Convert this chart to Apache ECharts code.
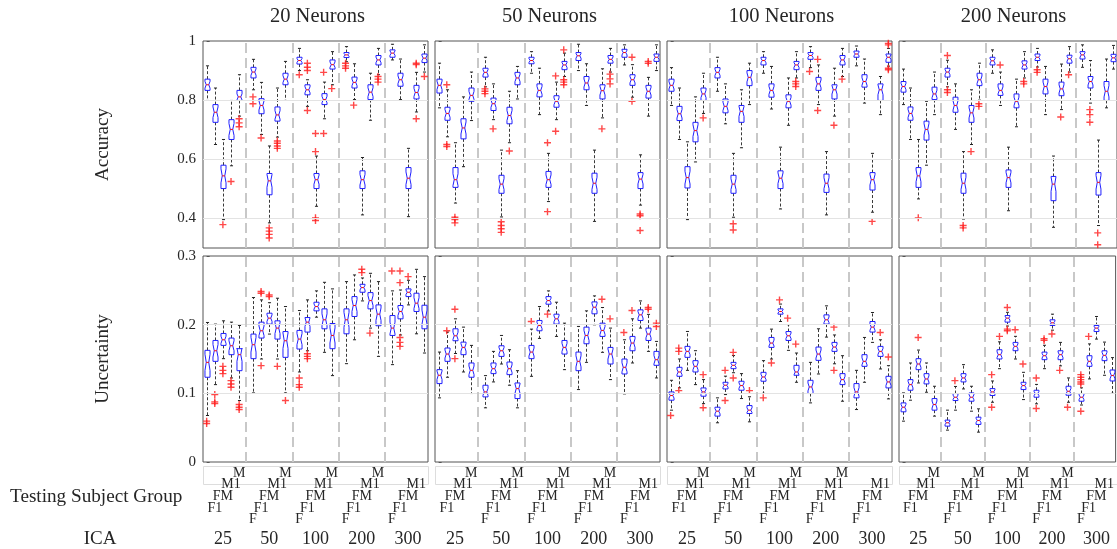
<!DOCTYPE html>
<html><head><meta charset="utf-8">
<script src="https://cdn.jsdelivr.net/npm/echarts@6/dist/echarts.min.js"></script>
<style>html,body{margin:0;padding:0;background:#fff}#c{width:1117px;height:549px}</style>
</head><body><div id="c"></div>
<script>
// ---------------- data ----------------
const neuronTitles = ['20 Neurons', '50 Neurons', '100 Neurons', '200 Neurons'];
const icaLabels = ['25', '50', '100', '200', '300'];
const subjectGroups = ['F', 'F1', 'FM', 'M1', 'M'];
const accLabelTicks = [0.4, 0.6, 0.8, 1];
const uncLabelTicks = [0, 0.1, 0.2, 0.3];

// each box: [lowWhisker, q1, median, q3, highWhisker]; order: ICA 25..300, each F,F1,FM,M1,M
const acc20 = [
  [0.799,0.833,0.852,0.871,0.916],[0.650,0.725,0.759,0.785,0.841],[0.396,0.501,0.544,0.580,0.667],[0.578,0.667,0.701,0.734,0.799],[0.746,0.799,0.811,0.833,0.886],
  [0.835,0.875,0.895,0.911,0.938],[0.684,0.754,0.782,0.805,0.860],[0.385,0.480,0.527,0.552,0.645],[0.675,0.729,0.750,0.777,0.841],[0.799,0.852,0.871,0.891,0.931],
  [0.900,0.922,0.934,0.945,0.975],[0.779,0.818,0.835,0.852,0.869],[0.441,0.501,0.531,0.552,0.611],[0.737,0.785,0.802,0.822,0.861],[0.852,0.905,0.920,0.936,0.964],
  [0.930,0.944,0.953,0.961,0.981],[0.802,0.841,0.860,0.878,0.923],[0.412,0.501,0.531,0.561,0.606],[0.732,0.802,0.827,0.852,0.891],[0.886,0.919,0.936,0.951,0.975],
  [0.936,0.945,0.959,0.970,0.989],[0.802,0.847,0.869,0.891,0.939],[0.406,0.501,0.536,0.572,0.637],[0.760,0.804,0.826,0.850,0.894],[0.895,0.927,0.942,0.956,0.987]
];
const acc20Out = {2:[0.379],3:[0.525],4:[0.737,0.723,0.710],5:[0.811,0.788],6:[0.672],7:[0.368,0.357,0.346,0.334],8:[0.662,0.654,0.645,0.637],10:[0.886],11:[0.925,0.911,0.900,0.765],12:[0.687,0.626,0.402,0.393],13:[0.894,0.687],14:[0.839],15:[0.925,0.916,0.908],16:[0.783],19:[0.880,0.871,0.861],23:[0.925,0.920,0.737],24:[0.880]};

const acc50 = [
  [0.774,0.824,0.850,0.871,0.925],[0.676,0.732,0.755,0.776,0.835],[0.452,0.505,0.531,0.572,0.656],[0.575,0.669,0.706,0.737,0.811],[0.731,0.796,0.816,0.841,0.895],
  [0.845,0.878,0.894,0.908,0.945],[0.734,0.765,0.788,0.807,0.855],[0.405,0.485,0.516,0.546,0.631],[0.656,0.720,0.748,0.776,0.830],[0.804,0.852,0.875,0.894,0.914],
  [0.891,0.923,0.934,0.945,0.964],[0.751,0.811,0.833,0.855,0.908],[0.457,0.505,0.531,0.559,0.620],[0.734,0.776,0.796,0.815,0.861],[0.880,0.903,0.919,0.931,0.959],
  [0.900,0.934,0.950,0.961,0.989],[0.782,0.835,0.858,0.880,0.923],[0.390,0.485,0.519,0.553,0.631],[0.740,0.804,0.832,0.852,0.906],[0.895,0.925,0.938,0.951,0.975],
  [0.919,0.945,0.961,0.972,0.987],[0.810,0.850,0.869,0.886,0.920],[0.445,0.501,0.533,0.555,0.615],[0.746,0.807,0.830,0.850,0.877],[0.900,0.931,0.945,0.956,0.987]
];
const acc50Out = {1:[0.852,0.650,0.643],2:[0.404,0.396,0.385],5:[0.838,0.830,0.822],6:[0.703],7:[0.389,0.376,0.365,0.353],8:[0.628],12:[0.656,0.423],13:[0.882,0.695],14:[0.970,0.869,0.861,0.852],18:[0.703],19:[0.888,0.872,0.855],21:[0.945,0.796],22:[0.415,0.409,0.359],23:[0.931,0.925]};

const acc100 = [
  [0.782,0.830,0.850,0.871,0.910],[0.667,0.731,0.754,0.779,0.841],[0.396,0.503,0.538,0.575,0.659],[0.591,0.659,0.697,0.725,0.811],[0.755,0.799,0.821,0.841,0.891],
  [0.830,0.875,0.894,0.910,0.945],[0.720,0.757,0.779,0.804,0.855],[0.404,0.485,0.516,0.546,0.620],[0.639,0.725,0.762,0.782,0.835],[0.785,0.849,0.877,0.900,0.925],
  [0.891,0.919,0.934,0.945,0.964],[0.770,0.810,0.833,0.855,0.914],[0.432,0.501,0.536,0.561,0.641],[0.715,0.774,0.796,0.818,0.875],[0.875,0.903,0.919,0.931,0.964],
  [0.910,0.938,0.951,0.961,0.981],[0.785,0.833,0.855,0.877,0.919],[0.412,0.488,0.519,0.550,0.626],[0.746,0.804,0.835,0.852,0.908],[0.880,0.919,0.936,0.951,0.975],
  [0.916,0.945,0.956,0.966,0.983],[0.790,0.844,0.863,0.886,0.939],[0.421,0.496,0.531,0.555,0.620],[0.751,0.799,0.835,0.855,0.880],[0.915,0.928,0.945,0.956,0.975]
];
const acc100Out = {4:[0.740],7:[0.382,0.361],14:[0.863,0.855,0.846],15:[0.897],16:[0.938,0.765],18:[0.715],19:[0.871],22:[0.390],24:[0.992,0.987,0.908,0.903]};

const acc200 = [
  [0.785,0.827,0.846,0.863,0.905],[0.667,0.732,0.755,0.777,0.841],[0.466,0.505,0.544,0.572,0.667],[0.580,0.665,0.701,0.729,0.796],[0.751,0.802,0.821,0.844,0.895],
  [0.845,0.878,0.895,0.908,0.935],[0.701,0.759,0.782,0.810,0.855],[0.398,0.485,0.519,0.553,0.626],[0.650,0.725,0.757,0.782,0.835],[0.800,0.849,0.869,0.891,0.925],
  [0.891,0.919,0.933,0.945,0.970],[0.782,0.816,0.833,0.855,0.895],[0.426,0.505,0.538,0.564,0.641],[0.710,0.774,0.796,0.821,0.871],[0.875,0.905,0.919,0.933,0.964],
  [0.912,0.934,0.945,0.956,0.975],[0.751,0.821,0.846,0.871,0.914],[0.370,0.460,0.516,0.542,0.611],[0.768,0.815,0.838,0.861,0.922],[0.895,0.925,0.940,0.952,0.981],
  [0.911,0.939,0.953,0.964,0.987],[0.790,0.841,0.863,0.880,0.934],[0.376,0.479,0.522,0.555,0.665],[0.774,0.799,0.830,0.863,0.939],[0.905,0.930,0.943,0.955,0.985]
];
const acc200Out = {2:[0.402],5:[0.951,0.835,0.826],7:[0.376,0.368],8:[0.626],9:[0.788,0.779],11:[0.919],14:[0.863,0.855],15:[0.903,0.894],18:[0.743],19:[0.886],21:[0.768,0.751,0.725],22:[0.351,0.311]};

const unc20 = [
  [0.0677,0.1234,0.1451,0.1626,0.2032],[0.1127,0.1466,0.1620,0.1770,0.2008],[0.1505,0.1698,0.1780,0.1872,0.2056],[0.1224,0.1563,0.1693,0.1805,0.2037],[0.0895,0.1330,0.1563,0.1650,0.1988],
  [0.1006,0.1505,0.1708,0.1863,0.2395],[0.1500,0.1805,0.1911,0.2037,0.2361],[0.1863,0.2008,0.2095,0.2167,0.2320],[0.1500,0.1790,0.1950,0.2056,0.2385],[0.1006,0.1524,0.1766,0.1900,0.2264],
  [0.1311,0.1645,0.1790,0.1916,0.2206],[0.1620,0.1892,0.2037,0.2104,0.2361],[0.2109,0.2201,0.2264,0.2327,0.2492],[0.1597,0.1940,0.2071,0.2230,0.2617],[0.1258,0.1650,0.1843,0.2017,0.2521],
  [0.1432,0.1867,0.2071,0.2230,0.2627],[0.1780,0.2119,0.2279,0.2409,0.2724],[0.2346,0.2472,0.2540,0.2588,0.2680],[0.1950,0.2230,0.2351,0.2467,0.2748],[0.1538,0.1984,0.2153,0.2288,0.2627],
  [0.1418,0.1843,0.1950,0.2133,0.2492],[0.1850,0.2085,0.2192,0.2279,0.2505],[0.2288,0.2409,0.2472,0.2521,0.2646],[0.1867,0.2192,0.2313,0.2458,0.2806],[0.1587,0.1940,0.2109,0.2283,0.2700]
];
const unc20Out = {0:[0.0595,0.0561],1:[0.0982,0.0876,0.0851],2:[0.1393,0.1335,0.1287],3:[0.1185,0.1137,0.1089],4:[0.0837,0.0798,0.0764],6:[0.2482,0.2458,0.1403],7:[0.2433,0.2409],8:[0.1393],9:[0.0895],10:[0.1224,0.1127,0.1089],11:[0.1577,0.1538,0.1505],17:[0.2806,0.2758],18:[0.1877],20:[0.2782],21:[0.2782,0.2612,0.1814,0.1742,0.1684],22:[0.2700]};

const unc50 = [
  [0.0934,0.1142,0.1263,0.1345,0.1601],[0.1234,0.1466,0.1572,0.1660,0.1892],[0.1580,0.1766,0.1838,0.1940,0.2085],[0.1311,0.1563,0.1669,0.1746,0.1964],[0.0997,0.1234,0.1335,0.1442,0.1698],
  [0.0789,0.0948,0.1021,0.1118,0.1258],[0.1166,0.1287,0.1359,0.1442,0.1611],[0.1427,0.1538,0.1620,0.1693,0.1843],[0.1118,0.1272,0.1359,0.1456,0.1635],[0.0789,0.0924,0.1069,0.1151,0.1330],
  [0.1248,0.1505,0.1601,0.1698,0.1935],[0.1800,0.1911,0.1988,0.2061,0.2264],[0.2200,0.2298,0.2351,0.2409,0.2492],[0.1829,0.2008,0.2085,0.2153,0.2327],[0.1345,0.1572,0.1669,0.1770,0.2022],
  [0.1055,0.1330,0.1466,0.1601,0.1974],[0.1451,0.1722,0.1843,0.1964,0.2201],[0.1998,0.2158,0.2254,0.2332,0.2419],[0.1597,0.1829,0.1916,0.2022,0.2250],[0.1200,0.1427,0.1572,0.1669,0.1950],
  [0.0992,0.1282,0.1379,0.1500,0.1780],[0.1442,0.1620,0.1732,0.1829,0.2085],[0.1950,0.2061,0.2143,0.2216,0.2346],[0.1611,0.1770,0.1863,0.1950,0.2150],[0.1224,0.1408,0.1490,0.1611,0.1756]
];
const unc50Out = {1:[0.1911],2:[0.2225,0.1505],10:[0.2046],12:[0.2153],18:[0.2371],19:[0.2085],20:[0.1887],21:[0.2206],23:[0.2250,0.2225],24:[0.2022,0.1974]};

const unc100 = [
  [0.0755,0.0900,0.0968,0.1021,0.1190],[0.1080,0.1248,0.1311,0.1379,0.1500],[0.1335,0.1524,0.1611,0.1684,0.1901],[0.1127,0.1311,0.1393,0.1476,0.1621],[0.0850,0.0958,0.1021,0.1079,0.1200],
  [0.0571,0.0668,0.0740,0.0798,0.0934],[0.0982,0.1064,0.1118,0.1161,0.1250],[0.1300,0.1359,0.1408,0.1451,0.1550],[0.0924,0.1045,0.1113,0.1176,0.1287],[0.0585,0.0706,0.0755,0.0822,0.0950],
  [0.1000,0.1176,0.1238,0.1306,0.1476],[0.1500,0.1669,0.1732,0.1814,0.1935],[0.2046,0.2153,0.2192,0.2230,0.2300],[0.1626,0.1770,0.1838,0.1900,0.2000],[0.1161,0.1263,0.1311,0.1408,0.1587],
  [0.0861,0.0997,0.1093,0.1190,0.1451],[0.1282,0.1480,0.1572,0.1674,0.1940],[0.1819,0.2008,0.2071,0.2143,0.2274],[0.1430,0.1611,0.1674,0.1742,0.1850],[0.0885,0.1127,0.1200,0.1287,0.1548],
  [0.0764,0.0934,0.1021,0.1142,0.1335],[0.1161,0.1393,0.1466,0.1563,0.1814],[0.1742,0.1892,0.1964,0.2046,0.2177],[0.1355,0.1538,0.1611,0.1684,0.1780],[0.0919,0.1079,0.1166,0.1248,0.1403]
];
const unc100Out = {0:[0.0677],1:[0.1659,0.1611,0.1040],4:[0.1272,0.0789],6:[0.1335,0.0895],7:[0.1597,0.1224],9:[0.1040],10:[0.0934],11:[0.1442],12:[0.2361],13:[0.2095],14:[0.1717],18:[0.1964,0.1335],23:[0.1887],24:[0.1529]};

const unc200 = [
  [0.0595,0.0731,0.0798,0.0861,0.1006],[0.0900,0.1045,0.1127,0.1200,0.1442],[0.1151,0.1345,0.1427,0.1505,0.1630],[0.1016,0.1137,0.1209,0.1287,0.1442],[0.0668,0.0755,0.0837,0.0924,0.1103],
  [0.0464,0.0522,0.0571,0.0610,0.0755],[0.0755,0.0895,0.0943,0.0997,0.1100],[0.1064,0.1166,0.1224,0.1287,0.1418],[0.0740,0.0885,0.0943,0.1006,0.1103],[0.0435,0.0547,0.0605,0.0653,0.0774],
  [0.0870,0.0968,0.1021,0.1069,0.1180],[0.1359,0.1500,0.1563,0.1635,0.1750],[0.1980,0.2037,0.2095,0.2133,0.2180],[0.1500,0.1621,0.1684,0.1742,0.1830],[0.0909,0.1055,0.1113,0.1161,0.1306],
  [0.0847,0.0943,0.0997,0.1045,0.1130],[0.1359,0.1490,0.1548,0.1601,0.1700],[0.1920,0.1988,0.2027,0.2071,0.2153],[0.1400,0.1490,0.1563,0.1620,0.1742],[0.0870,0.0972,0.1030,0.1103,0.1224],
  [0.0830,0.0885,0.0943,0.0997,0.1080],[0.1210,0.1393,0.1466,0.1548,0.1720],[0.1790,0.1900,0.1950,0.1988,0.2119],[0.1263,0.1476,0.1553,0.1620,0.1746],[0.1000,0.1180,0.1260,0.1340,0.1520]
];
const unc200Out = {2:[0.1814],6:[0.1185],10:[0.1272,0.0798],11:[0.1829],12:[0.2250,0.1935,0.1911],13:[0.1925],14:[0.1427],15:[0.1224,0.0779],16:[0.1795,0.1771],17:[0.1863],18:[0.1335],19:[0.0798],20:[0.1272,0.1234,0.1200,0.1166,0.1137,0.0740],21:[0.1829]};

// ---------------- layout / style ----------------
const FONT = '"Liberation Serif", "Times New Roman", serif';
const TXT = '#262626';
const GAP = 5.7;
const XMIN = -0.45, XMAX = 4 * GAP + 4 + 0.45;
const panelLefts = [203, 435, 667, 899];
const panelW = 225;
const rows = [{top: 41, height: 207}, {top: 256, height: 206}];

const positions = [];
for (let g = 0; g < 5; g++) for (let i = 0; i < 5; i++) positions.push(+(g * GAP + i).toFixed(3));
const groupCenters = [0,1,2,3,4].map(g => +(g * GAP + 2).toFixed(3));
const separators = [0,1,2,3].map(g => +(g * GAP + 4 + (GAP - 4) / 2).toFixed(3));

const panels = [
  {row: 0, col: 0, boxes: acc20, out: acc20Out}, {row: 0, col: 1, boxes: acc50, out: acc50Out},
  {row: 0, col: 2, boxes: acc100, out: acc100Out}, {row: 0, col: 3, boxes: acc200, out: acc200Out},
  {row: 1, col: 0, boxes: unc20, out: unc20Out}, {row: 1, col: 1, boxes: unc50, out: unc50Out},
  {row: 1, col: 2, boxes: unc100, out: unc100Out}, {row: 1, col: 3, boxes: unc200, out: unc200Out}
];

function renderBox(params, api) {
  const x = api.value(0);
  const lo = api.value(1), q1 = api.value(2), md = api.value(3), q3 = api.value(4), hi = api.value(5);
  const unit = api.size([1, 0])[0];
  const hw = unit * 0.31, cw = unit * 0.19;
  const nk = 0.3 * (q3 - q1);
  const P = v => api.coord([x, v]);
  const cx = Math.round(P(md)[0]) + 0.5;
  const yLo = P(lo)[1], yQ1 = P(q1)[1], yMd = P(md)[1], yQ3 = P(q3)[1], yHi = P(hi)[1];
  const yN1 = P(md - nk)[1], yN2 = P(md + nk)[1];
  const pts = [[cx-hw,yQ1],[cx-hw,yN1],[cx-hw/2,yMd],[cx-hw,yN2],[cx-hw,yQ3],[cx+hw,yQ3],[cx+hw,yN2],[cx+hw/2,yMd],[cx+hw,yN1],[cx+hw,yQ1]];
  const wh = {stroke: '#3a3a3a', lineWidth: 1, lineDash: [3, 2]};
  const cap = {stroke: '#222', lineWidth: 1};
  return {type: 'group', children: [
    {type: 'line', shape: {x1: cx, y1: yQ3, x2: cx, y2: yHi}, style: wh},
    {type: 'line', shape: {x1: cx, y1: yQ1, x2: cx, y2: yLo}, style: wh},
    {type: 'line', shape: {x1: cx - cw, y1: yHi, x2: cx + cw, y2: yHi}, style: cap},
    {type: 'line', shape: {x1: cx - cw, y1: yLo, x2: cx + cw, y2: yLo}, style: cap},
    {type: 'polygon', shape: {points: pts}, style: {fill: 'none', stroke: '#2020ff', lineWidth: 1}},
    {type: 'line', shape: {x1: cx - hw / 2, y1: yMd, x2: cx + hw / 2, y2: yMd}, style: {stroke: '#ff0000', lineWidth: 1}}
  ]};
}

const grid = [], xAxis = [], yAxis = [], series = [], graphic = [];
panels.forEach((p, k) => {
  const r = rows[p.row];
  grid.push({left: panelLefts[p.col], top: r.top, width: panelW, height: r.height, show: true, borderColor: '#555', borderWidth: 1, backgroundColor: 'transparent'});
  const mainX = xAxis.length;
  xAxis.push({
    gridIndex: k, type: 'value', min: XMIN, max: XMAX,
    axisLine: {show: false}, axisTick: {show: false}, splitLine: {show: false},
    axisLabel: p.row === 1 ? {
      show: true, customValues: positions, margin: 5, fontFamily: FONT, fontSize: 14, color: TXT,
      lineHeight: 11.7, verticalAlign: 'top',
      formatter: v => { const g = Math.round((v - 2) / GAP); const i = Math.round(v - g * GAP); return '\n'.repeat(4 - i) + subjectGroups[i]; }
    } : {show: false}
  });
  if (p.row === 1) {
    xAxis.push({
      gridIndex: k, type: 'value', min: XMIN, max: XMAX, position: 'bottom',
      axisLine: {show: false}, axisTick: {show: false}, splitLine: {show: false},
      axisLabel: {show: true, customValues: groupCenters, margin: 68, fontFamily: FONT, fontSize: 18, color: TXT, lineHeight: 18, verticalAlign: 'top',
        formatter: v => icaLabels[Math.round((v - 2) / GAP)]}
    });
  }
  const isAcc = p.row === 0;
  yAxis.push({
    gridIndex: k, type: 'value', min: isAcc ? 0.3 : 0, max: isAcc ? 1 : 0.3, interval: 0.1,
    axisLine: {show: false},
    axisTick: {show: true, inside: true, length: 3, lineStyle: {color: '#555'}, customValues: isAcc ? accLabelTicks : uncLabelTicks},
    splitLine: {show: false},
    axisLabel: p.col === 0 ? {show: true, customValues: isAcc ? accLabelTicks : uncLabelTicks, fontFamily: FONT, fontSize: 15, color: TXT, margin: 7} : {show: false},
    name: p.col === 0 ? (isAcc ? 'Accuracy' : 'Uncertainty') : '',
    nameLocation: 'middle', nameRotate: 90, nameGap: 90,
    nameTextStyle: {fontFamily: FONT, fontSize: 19, color: TXT}
  });
  const gridVals = isAcc ? [0.4, 0.6, 0.8] : [0.1, 0.2];
  series.push({
    type: 'line', xAxisIndex: mainX, yAxisIndex: k, data: [], silent: true, z: 1, animation: false,
    markLine: {
      symbol: ['none', 'none'], silent: true, animation: false, label: {show: false},
      data: gridVals.map(v => ({yAxis: v, lineStyle: {color: '#e3e3e3', type: 'solid', width: 1}}))
        .concat(separators.map(v => ({xAxis: v, lineStyle: {color: '#c8c8c8', type: [10, 5], width: 2}})))
    }
  });
  series.push({
    type: 'custom', xAxisIndex: mainX, yAxisIndex: k, z: 3, animation: false,
    renderItem: renderBox, encode: {x: 0, y: [1, 2, 3, 4, 5]},
    data: p.boxes.map((b, j) => [positions[j]].concat(b))
  });
  const outPts = [];
  Object.keys(p.out).forEach(j => p.out[j].forEach(v => outPts.push([positions[+j], v])));
  series.push({
    type: 'scatter', xAxisIndex: mainX, yAxisIndex: k, z: 4, animation: false, silent: true,
    symbol: 'path://M4,0H6V4H10V6H6V10H4V6H0V4H4Z', symbolSize: 7,
    itemStyle: {color: '#ff1a1a'}, data: outPts
  });
  if (p.row === 1) {
    graphic.push({type: 'rect', silent: true, shape: {x: panelLefts[p.col] + 0.5, y: 466.5, width: panelW, height: 18}, style: {fill: 'none', stroke: '#dddddd', lineWidth: 1}, z: -1});
  }
});

neuronTitles.forEach((t, c) => {
  graphic.push({type: 'text', x: panelLefts[c] + panelW / 2 + 2, y: 17,
    style: {text: t, font: '20.5px ' + FONT, fill: TXT, align: 'center', verticalAlign: 'middle', textAlign: 'center', textVerticalAlign: 'middle'}});
});
graphic.push({type: 'text', x: 10, y: 497, style: {text: 'Testing Subject Group', font: '19.2px ' + FONT, fill: TXT, align: 'left', verticalAlign: 'middle', textAlign: 'left', textVerticalAlign: 'middle'}});
graphic.push({type: 'text', x: 100, y: 539, style: {text: 'ICA', font: '19px ' + FONT, fill: TXT, align: 'center', verticalAlign: 'middle', textAlign: 'center', textVerticalAlign: 'middle'}});

const chart = echarts.init(document.getElementById('c'), null, {renderer: 'canvas'});
chart.setOption({backgroundColor: '#fff', animation: false, grid, xAxis, yAxis, series, graphic});
</script></body></html>
